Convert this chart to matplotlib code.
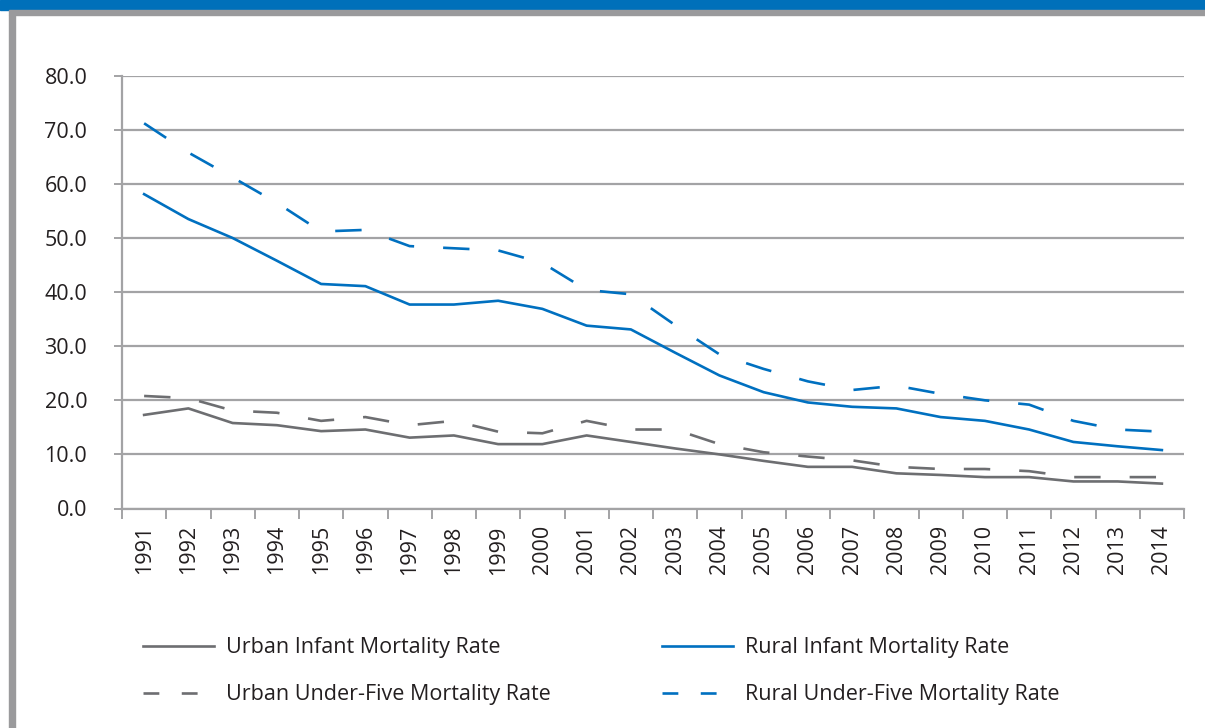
import matplotlib
matplotlib.use("Agg")
import matplotlib.pyplot as plt
from matplotlib.lines import Line2D
from matplotlib.patches import Rectangle
import numpy as np

years = [str(y) for y in range(1991, 2015)]
urban_infant = [17.3, 18.5, 15.8, 15.4, 14.3, 14.6, 13.1, 13.5, 11.9, 11.9, 13.5, 12.3,
                11.1, 10.0, 8.8, 7.7, 7.7, 6.5, 6.2, 5.8, 5.8, 5.0, 5.0, 4.6]
urban_u5 = [20.8, 20.4, 18.1, 17.7, 16.2, 16.9, 15.4, 16.2, 14.2, 13.9, 16.2, 14.6,
            14.6, 11.9, 10.4, 9.6, 8.9, 7.7, 7.3, 7.3, 6.9, 5.8, 5.8, 5.8]
rural_infant = [58.1, 53.5, 50.0, 45.8, 41.5, 41.1, 37.7, 37.7, 38.4, 36.9, 33.8, 33.1,
                28.8, 24.6, 21.5, 19.6, 18.8, 18.5, 16.9, 16.2, 14.6, 12.3, 11.5, 10.8]
rural_u5 = [71.2, 65.8, 61.2, 56.5, 51.2, 51.5, 48.5, 48.1, 47.7, 45.4, 40.4, 39.6,
            33.9, 28.5, 25.8, 23.5, 21.9, 22.7, 21.2, 20.0, 19.2, 16.2, 14.6, 14.2]
y_ticks = [0, 10, 20, 30, 40, 50, 60, 70, 80]
labels = ["Urban Infant Mortality Rate", "Rural Infant Mortality Rate",
          "Urban Under-Five Mortality Rate", "Rural Under-Five Mortality Rate"]

BLUE = "#0070C0"
GRAY = "#6D6E71"
GRID = "#A3A3A5"
FONT = "Open Sans"
plt.rcParams['font.family'] = [FONT, 'DejaVu Sans']

W, H = 1205, 728
fig = plt.figure(figsize=(W / 100, H / 100), dpi=100)

# decorative frame
fig.patches.append(Rectangle((0, 1 - 10 / H), 1, 10 / H, transform=fig.transFigure,
                             color="#0070BA", zorder=0))
fig.patches.append(Rectangle((9 / W, 1 - 15 / H), 1 - 9 / W, 5 / H, transform=fig.transFigure,
                             color="#9A9A9C", zorder=0))
fig.patches.append(Rectangle((9 / W, 0), 6 / W, 1 - 15 / H, transform=fig.transFigure,
                             color="#9A9A9C", zorder=0))

left, right = 122 / W, 1184 / W
bottom, top = 1 - 508.5 / H, 1 - 75.7 / H
ax = fig.add_axes([left, bottom, right - left, top - bottom])

x = np.arange(len(years))
lw = 1.9
ax.plot(x, urban_infant, color=GRAY, lw=lw, solid_joinstyle='round', zorder=3)
ax.plot(x, urban_u5, color=GRAY, lw=lw, dashes=(10, 11), zorder=3)
ax.plot(x, rural_infant, color=BLUE, lw=lw, solid_joinstyle='round', zorder=3)
ax.plot(x, rural_u5, color=BLUE, lw=lw, dashes=(10, 11), zorder=3)

ax.set_xlim(-0.5, len(years) - 0.5)
ax.set_ylim(0, 80)
ax.set_yticks(y_ticks)
ax.set_yticklabels([f"{v:.1f}" for v in y_ticks])
ax.yaxis.grid(True, color=GRID, lw=1.6)
ax.set_axisbelow(True)

ax.set_xticks(np.arange(len(years) + 1) - 0.5)
ax.set_xticklabels([])
ax.set_xticks(x, minor=True)
ax.set_xticklabels(years, minor=True, rotation=90)
ax.tick_params(axis='x', which='major', length=7.5, width=1.4, color=GRID)
ax.tick_params(axis='x', which='minor', length=0, pad=12, labelsize=15.5, labelcolor="#231F20")
ax.tick_params(axis='y', length=6, width=1.4, color=GRID, pad=19, labelsize=15.5,
               labelcolor="#231F20")

for s in ['top', 'right']:
    ax.spines[s].set_visible(False)
for s in ['left', 'bottom']:
    ax.spines[s].set_color(GRID)
    ax.spines[s].set_linewidth(1.6)

handles = [
    Line2D([], [], color=GRAY, lw=lw),
    Line2D([], [], color=GRAY, lw=lw, dashes=(6, 8.5)),
    Line2D([], [], color=BLUE, lw=lw),
    Line2D([], [], color=BLUE, lw=lw, dashes=(6, 8.5)),
]
hl = [labels[0], labels[2], labels[1], labels[3]]
fig.legend(handles, hl, ncol=2, loc='upper left', bbox_to_anchor=(124 / W, 1 - 618 / H),
           frameon=False, fontsize=15.5, handlelength=3.3, handletextpad=0.55,
           columnspacing=5.15, labelspacing=1.2, labelcolor="#231F20")

fig.savefig("out.png", dpi=100, facecolor="white")
